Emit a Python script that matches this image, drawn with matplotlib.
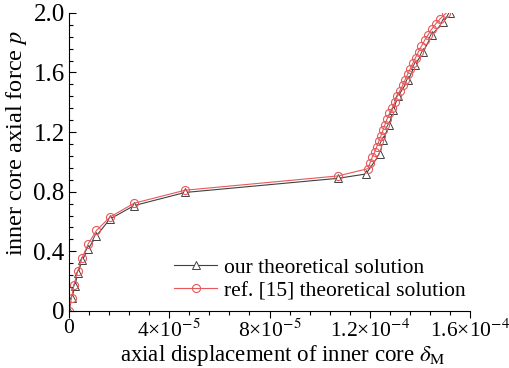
# inner core axial force vs axial displacement
import matplotlib
matplotlib.use("Agg")
import matplotlib.pyplot as plt
from matplotlib.ticker import MultipleLocator

plt.rcParams['font.family'] = ['Liberation Serif', 'DejaVu Serif']
plt.rcParams['mathtext.fontset'] = 'stix'

# displacement in units of 1e-6
our_x = [0, 1.2, 2.4, 3.6, 5.3, 7.7, 11.0, 16.4, 26.0, 46.3, 107.3, 118.4,
         124.0, 125.3, 127.7, 129.3, 131.3, 135.3, 138.0, 141.3, 144.7, 149.3, 152.0]
our_p = [0, 0.085, 0.17, 0.255, 0.34, 0.416, 0.505, 0.617, 0.707, 0.795, 0.89, 0.919,
         1.054, 1.148, 1.248, 1.349, 1.443, 1.55, 1.651, 1.74, 1.852, 1.94, 2.0]

ref_x = [0, 1.1, 2.0, 3.6, 5.3, 7.7, 11.0, 16.4, 26.0, 46.3, 107.3,
         119.3, 120.0, 120.9, 121.9, 122.7, 123.6, 124.4, 125.3, 126.0, 126.9,
         127.8, 129.0, 129.9, 130.9, 131.9, 133.1, 134.0, 135.1, 136.1, 137.2,
         138.2, 139.4, 140.5, 141.8, 143.1, 144.6, 146.2, 148.0, 150.5]
ref_p = [0, 0.09, 0.175, 0.27, 0.357, 0.45, 0.54, 0.63, 0.723, 0.81, 0.906,
         0.955, 0.99, 1.03, 1.065, 1.10, 1.14, 1.175, 1.215, 1.25, 1.29,
         1.325, 1.365, 1.40, 1.44, 1.475, 1.515, 1.55, 1.59, 1.625, 1.665,
         1.70, 1.74, 1.775, 1.815, 1.85, 1.89, 1.925, 1.96, 2.0]

x_ticks = [0, 4e-5, 8e-5, 1.2e-4, 1.6e-4]
x_tick_labels = ['0', '4×10$^{-5}$', '8×10$^{-5}$', '1.2×10$^{-4}$', '1.6×10$^{-4}$']
y_ticks = [0, 0.4, 0.8, 1.2, 1.6, 2.0]
y_tick_labels = ['0', '0.4', '0.8', '1.2', '1.6', '2.0']

fig = plt.figure(figsize=(5.1, 3.68), dpi=100)
ax = fig.add_axes([0.135, 0.155, 0.787, 0.81])

ax.plot([v * 1e-6 for v in our_x], our_p, color='#404040', linewidth=0.8,
        marker='^', markersize=5.5, markerfacecolor='white', markeredgecolor='#404040',
        markeredgewidth=0.7, label='our theoretical solution')
ax.plot([v * 1e-6 for v in ref_x], ref_p, color='#e8585a', linewidth=0.8,
        marker='o', markersize=5.8, markerfacecolor='none', markeredgecolor='#e8585a',
        markeredgewidth=0.8, label='ref. [15] theoretical solution')

ax.set_xlim(0, 1.6e-4)
ax.set_ylim(0, 2.0)
ax.set_xticks(x_ticks)
ax.set_xticklabels(x_tick_labels)
ax.set_yticks(y_ticks)
ax.set_yticklabels(y_tick_labels)
ax.xaxis.set_minor_locator(MultipleLocator(8e-6))
ax.yaxis.set_minor_locator(MultipleLocator(0.08))

ax.spines['top'].set_visible(False)
ax.spines['right'].set_visible(False)
for s in ['left', 'bottom']:
    ax.spines[s].set_linewidth(0.8)
ax.tick_params(axis='x', which='major', direction='out', length=5, width=0.8, labelsize=15.5, pad=1)
ax.tick_params(axis='x', which='minor', direction='out', length=3, width=0.8)
ax.tick_params(axis='y', which='major', direction='in', length=5, width=0.8, labelsize=18, pad=3)
ax.tick_params(axis='y', which='minor', direction='in', length=3, width=0.8)

ax.set_xlabel(r'axial displacement of inner core $\delta_{\rm M}$', fontsize=16.5)
ax.set_ylabel(r'inner core axial force $p$', fontsize=17.5)
ax.xaxis.set_label_coords(0.534, -0.107)
ax.yaxis.set_label_coords(-0.1, 0.565)

ax.legend(loc='lower right', bbox_to_anchor=(1.02, -0.01), frameon=False, fontsize=15.5,
          handlelength=2.0, handletextpad=0.3, labelspacing=0.15, borderaxespad=0.2)

fig.savefig('out.png', dpi=100)
